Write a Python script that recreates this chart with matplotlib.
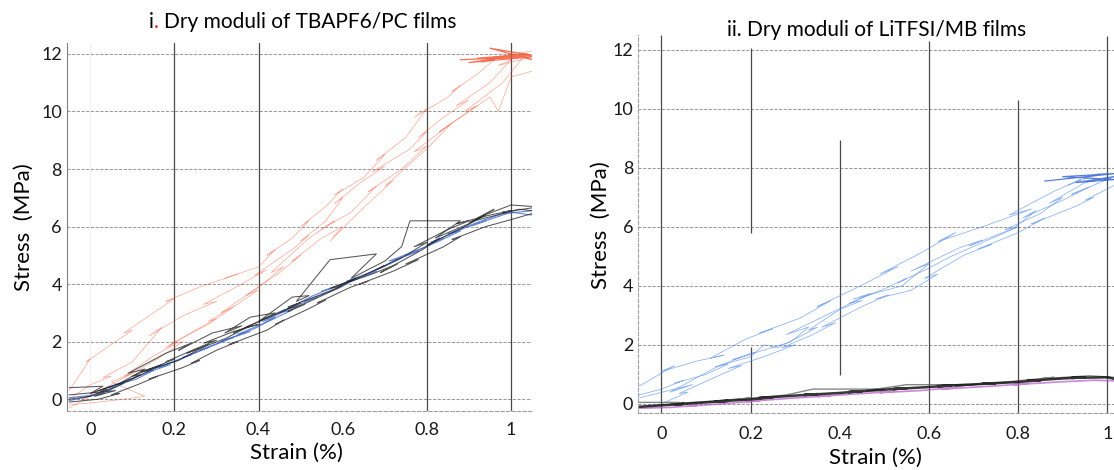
import numpy as np
import matplotlib
matplotlib.use("Agg")
import matplotlib.pyplot as plt
from matplotlib.transforms import IdentityTransform

plt.rcParams['font.family'] = ['Lato', 'DejaVu Sans']

# ---- panel i: TBAPF6/PC (strain %, stress MPa) ----
red_a_x = [-0.05, 0.00, -0.01, 0.05, 0.10, 0.08, 0.17, 0.20, 0.18, 0.26, 0.35, 0.32, 0.40, 0.44, 0.42, 0.48, 0.52, 0.50,
           0.56, 0.60, 0.58, 0.65, 0.70, 0.68, 0.75, 0.80, 0.77, 0.85, 0.88, 0.86, 0.92, 0.96, 0.93, 1.00, 1.05]
red_a_y = [0.3, 1.4, 1.3, 1.9, 2.4, 2.3, 3.2, 3.5, 3.4, 3.9, 4.35, 4.2, 4.6, 5.2, 5.0, 5.6, 6.2, 6.0,
           6.7, 7.3, 7.1, 7.7, 8.5, 8.3, 9.1, 10.1, 9.8, 10.5, 10.9, 10.7, 11.3, 11.8, 11.7, 12.0, 12.1]
red_b_x = [-0.05, 0.00, 0.05, 0.03, 0.10, 0.17, 0.14, 0.22, 0.30, 0.27, 0.36, 0.42, 0.39, 0.48, 0.52, 0.50,
           0.56, 0.60, 0.58, 0.64, 0.70, 0.67, 0.76, 0.80, 0.78, 0.84, 0.90, 0.87, 0.95, 1.00, 0.97, 1.05]
red_b_y = [0.0, 0.5, 0.8, 0.75, 1.3, 2.5, 2.2, 2.9, 3.4, 3.3, 4.0, 4.5, 4.3, 5.2, 5.7, 5.5,
           6.2, 7.0, 6.8, 7.5, 8.1, 7.9, 8.7, 9.3, 9.1, 9.8, 10.4, 10.2, 11.0, 11.8, 11.6, 11.9]
red_c_x = [-0.05, 0.00, -0.02, 0.05, 0.10, 0.08, 0.15, 0.20, 0.18, 0.25, 0.30, 0.28, 0.35, 0.40, 0.37, 0.45,
           0.50, 0.48, 0.55, 0.60, 0.57, 0.66, 0.72, 0.70, 0.80, 0.86, 0.83, 0.90, 0.95, 0.97, 1.00, 1.05]
red_c_y = [-0.3, 0.1, 0.0, 0.5, 0.9, 0.8, 1.5, 1.9, 1.8, 2.4, 2.8, 2.7, 3.3, 3.8, 3.6, 4.4,
           5.0, 4.8, 5.6, 6.0, 5.5, 6.8, 7.6, 7.4, 8.7, 9.6, 9.3, 10.0, 10.5, 10.0, 11.2, 11.4]
red_d_x = [-0.05, 0.02, 0.08, 0.13, 0.05, 0.10, 0.16, 0.22, 0.19, 0.28, 0.34, 0.31, 0.40, 0.46, 0.43,
           0.52, 0.58, 0.55, 0.62, 0.68, 0.66, 0.74, 0.80, 0.77, 0.86, 0.92, 0.89, 0.98, 1.03, 1.05]
red_d_y = [-0.2, -0.1, 0.0, 0.1, 0.6, 0.9, 1.4, 2.0, 1.9, 2.6, 3.2, 3.0, 3.9, 4.6, 4.4,
           5.6, 6.2, 5.9, 6.5, 7.4, 7.2, 8.0, 8.8, 8.6, 9.6, 10.2, 10.0, 11.0, 11.9, 11.8]
red_top_x = [0.88, 1.05, 0.90, 1.04, 0.92, 1.05, 0.95, 1.05]
red_top_y = [11.8, 11.9, 11.7, 12.0, 11.85, 11.95, 12.2, 11.8]

blk_a_x = [-0.05, 0.00, 0.04, 0.02, 0.08, 0.12, 0.10, 0.16, 0.20, 0.18, 0.25, 0.30, 0.27, 0.34, 0.40, 0.37, 0.45, 0.50,
           0.47, 0.55, 0.60, 0.57, 0.65, 0.70, 0.68, 0.75, 0.80, 0.77, 0.85, 0.90, 0.87, 0.95, 1.00, 0.98, 1.05]
blk_a_y = [0.0, 0.1, 0.35, 0.3, 0.6, 0.85, 0.8, 1.15, 1.4, 1.3, 1.75, 2.05, 1.95, 2.35, 2.6, 2.5, 3.0, 3.35,
           3.2, 3.65, 3.95, 3.85, 4.3, 4.65, 4.5, 5.0, 5.45, 5.3, 5.9, 6.2, 6.1, 6.4, 6.55, 6.5, 6.65]
blk_b_x = [-0.05, 0.03, 0.00, 0.07, 0.13, 0.09, 0.18, 0.24, 0.21, 0.29, 0.36, 0.32, 0.38, 0.44, 0.40, 0.48,
           0.52, 0.49, 0.57, 0.68, 0.62, 0.70, 0.74, 0.76, 0.88, 0.82, 0.90, 0.96, 0.92, 1.00, 1.05]
blk_b_y = [0.4, 0.45, 0.2, 0.55, 1.05, 0.9, 1.6, 1.95, 1.7, 2.3, 2.55, 2.3, 2.85, 3.0, 2.7, 3.55,
           3.6, 3.4, 4.85, 5.05, 4.2, 4.8, 5.3, 6.2, 6.2, 5.6, 6.1, 6.6, 6.3, 6.75, 6.7]
blk_c_x = [-0.05, 0.02, 0.07, 0.05, 0.12, 0.16, 0.14, 0.22, 0.26, 0.24, 0.30, 0.35, 0.33, 0.42, 0.46, 0.44,
           0.52, 0.56, 0.54, 0.62, 0.66, 0.64, 0.72, 0.78, 0.75, 0.84, 0.88, 0.86, 0.94, 0.99, 1.05]
blk_c_y = [-0.1, 0.0, 0.2, 0.15, 0.55, 0.8, 0.7, 1.1, 1.35, 1.25, 1.7, 2.0, 1.9, 2.4, 2.75, 2.6,
           3.15, 3.45, 3.35, 3.9, 4.1, 4.0, 4.45, 4.85, 4.7, 5.3, 5.65, 5.55, 6.0, 6.2, 6.45]
blk_d_x = [-0.05, 0.06, 0.01, 0.10, 0.17, 0.12, 0.21, 0.28, 0.23, 0.32, 0.38, 0.34, 0.46, 0.51, 0.47, 0.58,
           0.63, 0.59, 0.67, 0.73, 0.69, 0.79, 0.83, 0.80, 0.89, 0.94, 0.90, 1.02, 1.05]
blk_d_y = [0.15, 0.3, 0.1, 0.7, 1.2, 0.95, 1.35, 1.9, 1.6, 2.1, 2.55, 2.3, 3.1, 3.3, 3.05, 3.8,
           4.2, 3.95, 4.35, 4.7, 4.4, 5.2, 5.6, 5.35, 6.0, 6.4, 6.15, 6.6, 6.55]
blu_a_x = [-0.05, 0.01, 0.06, 0.04, 0.11, 0.15, 0.13, 0.20, 0.24, 0.22, 0.29, 0.34, 0.31, 0.39, 0.44, 0.41, 0.49,
           0.54, 0.51, 0.59, 0.64, 0.61, 0.69, 0.74, 0.71, 0.79, 0.84, 0.81, 0.89, 0.94, 0.91, 1.00, 1.05]
blu_a_y = [0.05, 0.15, 0.45, 0.4, 0.7, 1.0, 0.95, 1.3, 1.55, 1.45, 1.85, 2.15, 2.0, 2.45, 2.85, 2.7, 3.25,
           3.55, 3.4, 3.85, 4.25, 4.1, 4.55, 4.9, 4.8, 5.25, 5.6, 5.45, 5.95, 6.2, 6.05, 6.5, 6.4]
blu_b_x = [-0.05, 0.03, 0.08, 0.06, 0.14, 0.19, 0.16, 0.24, 0.28, 0.26, 0.33, 0.38, 0.35, 0.43, 0.48, 0.45,
           0.53, 0.58, 0.55, 0.63, 0.68, 0.65, 0.73, 0.78, 0.75, 0.83, 0.88, 0.85, 0.93, 0.98, 1.05]
blu_b_y = [-0.05, 0.2, 0.55, 0.5, 0.95, 1.2, 1.1, 1.55, 1.8, 1.7, 2.1, 2.35, 2.25, 2.75, 3.1, 3.0,
           3.6, 3.9, 3.75, 4.15, 4.45, 4.3, 4.85, 5.15, 5.0, 5.5, 5.85, 5.75, 6.2, 6.45, 6.55]

# ---- panel ii: LiTFSI/MB ----
mb_up_x = [-0.05, 0.03, 0.00, 0.08, 0.14, 0.11, 0.19, 0.25, 0.22, 0.31, 0.38, 0.35, 0.44, 0.53, 0.49, 0.58,
           0.66, 0.62, 0.72, 0.83, 0.78, 0.88, 0.94, 0.91, 0.98, 1.015]
mb_up_y = [0.6, 1.3, 1.1, 1.45, 1.65, 1.55, 2.2, 2.55, 2.4, 2.9, 3.5, 3.3, 3.95, 4.65, 4.4, 5.1,
           5.8, 5.5, 6.0, 6.6, 6.4, 7.2, 7.6, 7.4, 7.8, 7.8]
mb_mid_x = [-0.05, 0.00, 0.05, 0.03, 0.10, 0.15, 0.12, 0.20, 0.23, 0.26, 0.30, 0.35, 0.33, 0.40, 0.45, 0.42,
            0.50, 0.55, 0.53, 0.60, 0.65, 0.68, 0.74, 0.80, 0.77, 0.85, 0.90, 0.87, 0.95, 1.00, 1.015]
mb_mid_y = [0.3, 0.5, 0.8, 0.7, 1.0, 1.35, 1.25, 1.6, 2.0, 1.9, 2.2, 2.6, 2.5, 3.2, 3.5, 3.4,
            3.9, 4.25, 4.1, 4.6, 5.0, 5.2, 5.6, 6.0, 5.9, 6.45, 7.0, 6.8, 7.5, 7.65, 7.6]
mb_low_x = [-0.05, 0.00, 0.06, 0.04, 0.12, 0.18, 0.15, 0.23, 0.30, 0.27, 0.34, 0.39, 0.36, 0.45, 0.51,
            0.48, 0.56, 0.62, 0.59, 0.68, 0.74, 0.71, 0.80, 0.86, 0.83, 0.93, 0.97, 0.95, 1.015]
mb_low_y = [-0.1, 0.0, 0.4, 0.35, 0.9, 1.3, 1.2, 1.6, 2.0, 1.9, 2.35, 2.75, 2.6, 3.3, 3.7,
            3.55, 3.85, 4.4, 4.25, 5.05, 5.4, 5.25, 5.8, 6.3, 6.1, 6.7, 7.0, 6.9, 7.4]
mb_extra_x = [-0.05, 0.07, 0.02, 0.13, 0.21, 0.16, 0.29, 0.33, 0.28, 0.41, 0.47, 0.43, 0.54, 0.60, 0.56,
              0.67, 0.72, 0.69, 0.79, 0.84, 0.81, 0.90, 0.96, 0.92, 1.015]
mb_extra_y = [0.2, 0.65, 0.4, 1.3, 1.75, 1.5, 2.1, 2.6, 2.35, 3.3, 3.75, 3.55, 4.0, 4.75, 4.5,
              5.3, 5.55, 5.35, 5.95, 6.55, 6.3, 6.9, 7.35, 7.1, 7.7]
mb_top_x = [0.86, 1.015, 0.90, 1.015, 0.93, 1.015]
mb_top_y = [7.55, 7.8, 7.7, 7.6, 7.5, 7.7]

mb_blk_x = [-0.05, 0.00, 0.05, 0.03, 0.10, 0.15, 0.12, 0.20, 0.25, 0.22, 0.30, 0.35, 0.32, 0.40, 0.45, 0.42,
            0.50, 0.55, 0.52, 0.60, 0.65, 0.62, 0.70, 0.75, 0.72, 0.80, 0.85, 0.82, 0.90, 0.95, 0.92, 1.00, 1.015]
mb_blk_y = [-0.1, -0.05, 0.0, -0.02, 0.05, 0.1, 0.08, 0.15, 0.22, 0.2, 0.28, 0.33, 0.3, 0.37, 0.43, 0.4,
            0.48, 0.53, 0.5, 0.57, 0.62, 0.6, 0.66, 0.7, 0.68, 0.74, 0.8, 0.78, 0.86, 0.9, 0.88, 0.9, 0.85]
mb_gry_x = [-0.05, 0.04, 0.02, 0.12, 0.20, 0.17, 0.28, 0.34, 0.50, 0.46, 0.55, 0.70, 0.66, 0.78, 0.88, 0.85,
            0.96, 1.015]
mb_gry_y = [0.05, 0.05, 0.0, 0.1, 0.2, 0.15, 0.3, 0.5, 0.5, 0.45, 0.65, 0.65, 0.6, 0.75, 0.9, 0.85, 0.95, 0.9]
mb_pur_x = [-0.05, 0.02, 0.08, 0.06, 0.15, 0.22, 0.19, 0.30, 0.38, 0.35, 0.45, 0.52, 0.49, 0.58, 0.66, 0.63,
            0.74, 0.82, 0.79, 0.90, 0.97, 1.015]
mb_pur_y = [-0.15, -0.12, -0.05, -0.08, 0.02, 0.1, 0.08, 0.2, 0.28, 0.25, 0.35, 0.42, 0.38, 0.45, 0.55, 0.5,
            0.6, 0.68, 0.65, 0.75, 0.8, 0.78]

xticks = [0, 0.2, 0.4, 0.6, 0.8, 1]
xticklabels = ['0', '0.2', '0.4', '0.6', '0.8', '1']
yticks = [0, 2, 4, 6, 8, 10, 12]
# broken vertical guide lines of panel ii: (x, ymin, ymax)
vsegs_ii = [(0.0, -0.31, 12.5), (0.2, 5.8, 12.07), (0.2, -0.31, 1.93), (0.4, 0.98, 8.95),
            (0.6, -0.31, 12.3), (0.8, -0.31, 10.3), (1.0, -0.31, 12.45)]

W, H = 1114, 470
fig = plt.figure(figsize=(W / 100, H / 100), dpi=100)


def style_axes(ax, xlim, ylim, pad_x):
    ax.set_xlim(*xlim)
    ax.set_ylim(*ylim)
    ax.set_xticks(xticks)
    ax.set_xticklabels(xticklabels)
    ax.set_yticks(yticks)
    ax.tick_params(length=0, labelsize=13, colors='#1a1a1a')
    ax.tick_params(axis='y', pad=3.5)
    ax.tick_params(axis='x', pad=pad_x)
    for s in ['top', 'right']:
        ax.spines[s].set_visible(False)
    ax.spines['bottom'].set_color('#a0a0a0')
    ax.spines['bottom'].set_linestyle((0, (3, 2)))
    ax.spines['bottom'].set_linewidth(0.8)
    for yv in yticks:
        ax.axhline(yv, color='#999999', lw=0.75, ls=(0, (3, 1.5)), zorder=0)


# panel i
ax1 = fig.add_axes([66.7 / W, (H - 411) / H, (532 - 66.7) / W, (411 - 43) / H])
style_axes(ax1, (-0.056, 1.05), (-0.41, 12.38), 8)
ax1.spines['left'].set_color('#808080')
ax1.spines['left'].set_linewidth(0.8)
ax1.axvline(0, color='#ececec', lw=0.6, zorder=0)
for xv in [0.2, 0.4, 0.8, 1.0]:
    ax1.axvline(xv, color='#4a4a4a', lw=0.9, zorder=0)

red = '#f2502e'
for xs, ys in [(red_a_x, red_a_y), (red_b_x, red_b_y), (red_c_x, red_c_y), (red_d_x, red_d_y)]:
    ax1.plot(xs, ys, color=red, lw=0.5, alpha=0.5)
ax1.plot(red_top_x, red_top_y, color=red, lw=0.9, alpha=0.8)
for xs, ys in [(blu_a_x, blu_a_y), (blu_b_x, blu_b_y)]:
    ax1.plot(xs, ys, color='#3764c8', lw=0.8, alpha=0.75)
for xs, ys in [(blk_a_x, blk_a_y), (blk_b_x, blk_b_y), (blk_c_x, blk_c_y), (blk_d_x, blk_d_y)]:
    ax1.plot(xs, ys, color='#1e1e1e', lw=0.75, alpha=0.75)

# panel ii
ax2 = fig.add_axes([638 / W, (H - 413) / H, (W - 638) / W, (413 - 35) / H])
style_axes(ax2, (-0.0525, 1.015), (-0.31, 12.5), 9.5)
ax2.spines['left'].set_color('#a0a0a0')
ax2.spines['left'].set_linestyle((0, (3, 2)))
ax2.spines['left'].set_linewidth(0.8)
for xv, y0, y1 in vsegs_ii:
    ax2.vlines(xv, y0, y1, color='#4a4a4a', lw=0.9, zorder=0)

for xs, ys in [(mb_up_x, mb_up_y), (mb_mid_x, mb_mid_y), (mb_low_x, mb_low_y), (mb_extra_x, mb_extra_y)]:
    ax2.plot(xs, ys, color='#4a86e8', lw=0.55, alpha=0.65)
ax2.plot(mb_top_x, mb_top_y, color='#2f5fd0', lw=0.9, alpha=0.8)
ax2.plot(mb_pur_x, mb_pur_y, color='#b455c8', lw=1.2, alpha=0.7)
ax2.plot(mb_gry_x, mb_gry_y, color='#555555', lw=1.0, alpha=0.7)
ax2.plot(mb_blk_x, mb_blk_y, color='#141414', lw=1.8, alpha=0.85)

# labels
fig.text(296 / W, 1 - 453 / H, 'Strain (%)', ha='center', va='center', fontsize=16)
fig.text(875 / W, 1 - 458 / H, 'Strain (%)', ha='center', va='center', fontsize=16)
fig.text(24 / W, 1 - 227 / H, 'Stress  (MPa)', ha='center', va='center', rotation=90, fontsize=16)
fig.text(601 / W, 1 - 225 / H, 'Stress  (MPa)', ha='center', va='center', rotation=90, fontsize=16)

# panel i title, with the red full stop after "i"
r = fig.canvas.get_renderer()
probe = fig.text(303 / W, 1 - 22.5 / H, 'i. Dry moduli of TBAPF6/PC films', ha='center', va='center', fontsize=15)
bb = probe.get_window_extent(r)
t_id = fig.text(0, 0, 'i.', fontsize=15)
t_d = fig.text(0, 0, '.', fontsize=15)
off = t_id.get_window_extent(r).width - t_d.get_window_extent(r).width
for t in (probe, t_id, t_d):
    t.remove()
fig.text(bb.x0, bb.y0, 'i', fontsize=15, ha='left', va='bottom', transform=IdentityTransform())
fig.text(bb.x0 + off, bb.y0, '.', fontsize=15, color='#d8261c', ha='left', va='bottom',
         transform=IdentityTransform())
fig.text(bb.x1, bb.y0, 'Dry moduli of TBAPF6/PC films', fontsize=15, ha='right', va='bottom',
         transform=IdentityTransform())

fig.text(877 / W, 1 - 30 / H, 'ii. Dry moduli of LiTFSI/MB films', ha='center', va='center', fontsize=15)

fig.savefig('out.png', dpi=100)
